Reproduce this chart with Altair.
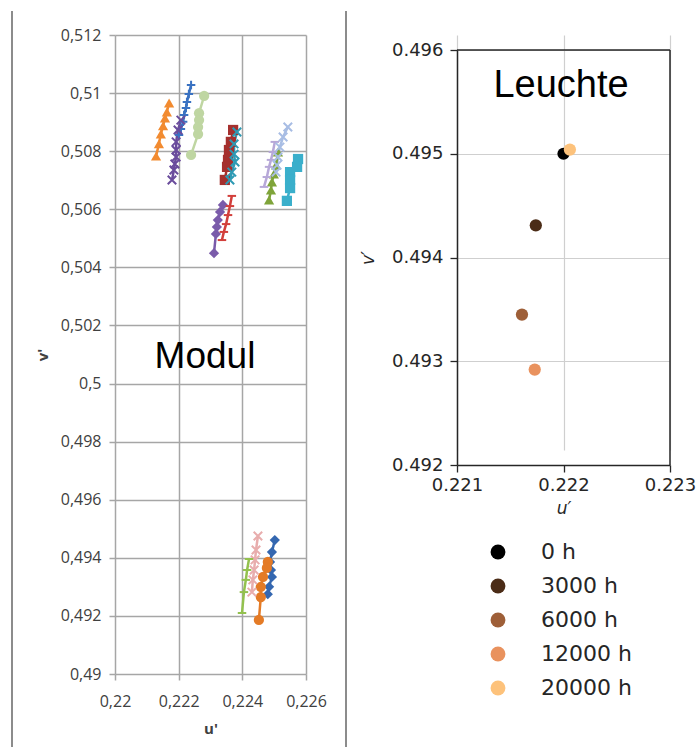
import altair as alt
import pandas as pd

# ---------------- Modul: u'/v' drift of the individual modules ----------------
mod01_u = [0.22129, 0.22138, 0.22144, 0.22151, 0.22157, 0.22163, 0.22170]
mod01_v = [0.50783, 0.50825, 0.50859, 0.50887, 0.50914, 0.50935, 0.50966]
mod02_u = [0.22239, 0.22232, 0.22226, 0.22223, 0.22217, 0.22214, 0.22207, 0.22201]
mod02_v = [0.51028, 0.50997, 0.50969, 0.50949, 0.50925, 0.50901, 0.50876, 0.50856]
mod03_u = [0.22207, 0.22198, 0.22192, 0.22192, 0.22192, 0.22188, 0.22185, 0.22179]
mod03_v = [0.50907, 0.50873, 0.50832, 0.50804, 0.50780, 0.50756, 0.50735, 0.50701]
mod04_u = [0.22280, 0.22264, 0.22264, 0.22261, 0.22261, 0.22239]
mod04_v = [0.50990, 0.50931, 0.50907, 0.50883, 0.50859, 0.50787]
mod05_u = [0.22371, 0.22364, 0.22358, 0.22355, 0.22352, 0.22345]
mod05_v = [0.50873, 0.50832, 0.50804, 0.50770, 0.50746, 0.50701]
mod06_u = [0.22383, 0.22374, 0.22374, 0.22377, 0.22367, 0.22361]
mod06_v = [0.50866, 0.50825, 0.50790, 0.50763, 0.50728, 0.50701]
mod07_u = [0.22367, 0.22361, 0.22355, 0.22349, 0.22342, 0.22336]
mod07_v = [0.50646, 0.50611, 0.50580, 0.50549, 0.50522, 0.50494]
mod08_u = [0.22339, 0.22330, 0.22323, 0.22320, 0.22317, 0.22311]
mod08_v = [0.50615, 0.50591, 0.50563, 0.50539, 0.50515, 0.50449]
mod09_u = [0.22502, 0.22496, 0.22490, 0.22484, 0.22477, 0.22468]
mod09_v = [0.50832, 0.50797, 0.50770, 0.50746, 0.50711, 0.50677]
mod10_u = [0.22543, 0.22528, 0.22518, 0.22512, 0.22509, 0.22506]
mod10_v = [0.50883, 0.50849, 0.50814, 0.50780, 0.50752, 0.50728]
mod11_u = [0.22512, 0.22506, 0.22499, 0.22493, 0.22490, 0.22484]
mod11_v = [0.50797, 0.50752, 0.50721, 0.50694, 0.50666, 0.50632]
mod12_u = [0.22575, 0.22572, 0.22550, 0.22550, 0.22550, 0.22540]
mod12_v = [0.50773, 0.50746, 0.50728, 0.50701, 0.50673, 0.50629]
mod13_u = [0.22502, 0.22493, 0.22487, 0.22490, 0.22493, 0.22484, 0.22480]
mod13_v = [0.49461, 0.49420, 0.49386, 0.49358, 0.49334, 0.49300, 0.49275]
mod14_u = [0.22480, 0.22477, 0.22465, 0.22458, 0.22458, 0.22452]
mod14_v = [0.49386, 0.49365, 0.49334, 0.49300, 0.49265, 0.49186]
mod15_u = [0.22449, 0.22443, 0.22440, 0.22437, 0.22433, 0.22430]
mod15_v = [0.49475, 0.49427, 0.49393, 0.49358, 0.49324, 0.49282]
mod16_u = [0.22421, 0.22415, 0.22411, 0.22405, 0.22399]
mod16_v = [0.49396, 0.49358, 0.49324, 0.49282, 0.49210]

modules = [f"M{i:02d}" for i in range(1, 17)]
module_u = [mod01_u, mod02_u, mod03_u, mod04_u, mod05_u, mod06_u, mod07_u, mod08_u,
            mod09_u, mod10_u, mod11_u, mod12_u, mod13_u, mod14_u, mod15_u, mod16_u]
module_v = [mod01_v, mod02_v, mod03_v, mod04_v, mod05_v, mod06_v, mod07_v, mod08_v,
            mod09_v, mod10_v, mod11_v, mod12_v, mod13_v, mod14_v, mod15_v, mod16_v]

# ---------------- Leuchte: luminaire chromaticity over operating time ----------------
leuchte_labels = ["0 h", "3000 h", "6000 h", "12000 h", "20000 h"]
leuchte_u = [0.22200, 0.22174, 0.22161, 0.22173, 0.22206]
leuchte_v = [0.49500, 0.49431, 0.49345, 0.49292, 0.49504]

# ---------------- styling ----------------
X_PATH = "M-1,-1L1,1M-1,1L1,-1"
PLUS_PATH = "M-1,0L1,0M0,-1L0,1"
DASH_PATH = "M-1,0L1,0"

module_colors = ["#F28B30", "#3A72C2", "#6A4C9C", "#BFD6A2", "#A5302E", "#2E9AB4",
                 "#D23F3B", "#7A5BAA", "#B7A8D8", "#A8BDE4", "#7FA43A", "#3AAFCB",
                 "#3467B0", "#E47B26", "#E8ADAD", "#93C14E"]
module_shapes = ["triangle-up", PLUS_PATH, X_PATH, "circle", "square", X_PATH,
                 DASH_PATH, "diamond", DASH_PATH, X_PATH, "triangle-up", "square",
                 "diamond", "circle", X_PATH, DASH_PATH]
filled_shapes = {"triangle-up", "circle", "square", "diamond"}

leuchte_colors = ["#000000", "#4B2C17", "#9E5F38", "#E9925E", "#FDC27B"]

rows = []
for name, us, vs, shp in zip(modules, module_u, module_v, module_shapes):
    kind = "filled" if shp in filled_shapes else "stroked"
    for i, (u, v) in enumerate(zip(us, vs)):
        rows.append({"modul": name, "i": i, "u": u, "v": v, "kind": kind})
mod_df = pd.DataFrame(rows)

leuchte_df = pd.DataFrame({"zeit": leuchte_labels, "u": leuchte_u, "v": leuchte_v})

GRID = "#A6A6A6"
SEP = "#8C8C8C"
comma_fmt = "replace(format(datum.value, '.3~f'), '.', ',')"

x_mod = alt.X(
    "u:Q",
    scale=alt.Scale(domain=[0.22, 0.226], nice=False, zero=False),
    axis=alt.Axis(
        values=[0.22, 0.222, 0.224, 0.226], labelExpr=comma_fmt, title="u'",
        grid=True, gridColor=GRID, gridWidth=1.5, domain=False, labelFlush=False,
        tickColor=GRID, tickWidth=1.5, tickSize=6,
        labelFont="Open Sans", labelFontSize=16, labelColor="#404040", labelPadding=13,
        titleFont="Open Sans", titleFontSize=15, titleFontWeight="bold",
        titleColor="#404040", titlePadding=12,
    ),
)
y_mod = alt.Y(
    "v:Q",
    scale=alt.Scale(domain=[0.49, 0.512], nice=False, zero=False),
    axis=alt.Axis(
        values=[0.49 + 0.002 * k for k in range(12)], labelExpr=comma_fmt, title="v'",
        grid=True, gridColor=GRID, gridWidth=1.5, domain=False, labelFlush=False,
        tickColor=GRID, tickWidth=1.5, tickSize=6,
        labelFont="Open Sans", labelFontSize=16, labelColor="#404040", labelPadding=8,
        titleFont="Open Sans", titleFontSize=15, titleFontWeight="bold",
        titleColor="#404040", titlePadding=10,
    ),
)
mod_color = alt.Color("modul:N", scale=alt.Scale(domain=modules, range=module_colors), legend=None)
mod_shape = alt.Shape("modul:N", scale=alt.Scale(domain=modules, range=module_shapes), legend=None)

mod_base = alt.Chart(mod_df)
mod_lines = mod_base.mark_line(strokeWidth=2.5).encode(
    x=x_mod, y=y_mod, color=mod_color, order="i:Q"
)
mod_filled = mod_base.transform_filter(
    alt.FieldEqualPredicate(field="kind", equal="filled")
).mark_point(filled=True, opacity=1, size=105).encode(
    x=x_mod, y=y_mod, color=mod_color, shape=mod_shape
)
mod_stroked = mod_base.transform_filter(
    alt.FieldEqualPredicate(field="kind", equal="stroked")
).mark_point(filled=False, opacity=1, size=72, strokeWidth=2).encode(
    x=x_mod, y=y_mod, color=mod_color, shape=mod_shape
)

one_row = pd.DataFrame({"k": [0]})
sep_left = alt.Chart(one_row).mark_rule(color=SEP, strokeWidth=2).encode(
    x=alt.value(-103), y=alt.value(-24), y2=alt.value(712)
)
modul_label = alt.Chart(one_row).mark_text(
    text="Modul", font="Liberation Sans", fontSize=37, color="#000000"
).encode(x=alt.value(90), y=alt.value(322))

left = alt.layer(sep_left, mod_lines, mod_filled, mod_stroked, modul_label).properties(
    width=191, height=639, view=alt.ViewBackground(stroke="transparent")
)

# ---------------- right panel ----------------
DARK = "#262626"
TOP_GAP = 15          # frame starts a little below the left panel's top
R_H = 415             # frame height
x_le = alt.X(
    "u:Q",
    scale=alt.Scale(domain=[0.221, 0.223], nice=False, zero=False),
    axis=alt.Axis(
        values=[0.221, 0.222, 0.223], format=".3f", title="u′",
        grid=True, gridColor="#CFCFCF", gridWidth=1.2, labelFlush=False,
        domain=True, domainColor=DARK, domainWidth=1.5,
        tickColor=DARK, tickWidth=1.3, tickSize=7,
        labelFont="DejaVu Sans", labelFontSize=18, labelColor=DARK, labelPadding=4,
        titleFont="DejaVu Sans", titleFontSize=17, titleFontStyle="italic",
        titleFontWeight="normal", titleColor=DARK, titlePadding=6,
    ),
)
y_le = alt.Y(
    "v:Q",
    scale=alt.Scale(domain=[0.492, 0.496], nice=False, zero=False,
                    range=[TOP_GAP + R_H, TOP_GAP]),
    axis=alt.Axis(
        values=[0.492, 0.493, 0.494, 0.495, 0.496], format=".3f", title="v′",
        grid=True, gridColor="#CFCFCF", gridWidth=1.2, labelFlush=False,
        domain=True, domainColor=DARK, domainWidth=1.5,
        tickColor=DARK, tickWidth=1.3, tickSize=7,
        labelFont="DejaVu Sans", labelFontSize=18, labelColor=DARK, labelPadding=7,
        titleFont="DejaVu Sans", titleFontSize=17, titleFontStyle="italic",
        titleFontWeight="normal", titleColor=DARK, titlePadding=14,
    ),
)
le_points = alt.Chart(leuchte_df).mark_circle(size=150, opacity=1).encode(
    x=x_le, y=y_le,
    color=alt.Color(
        "zeit:N",
        scale=alt.Scale(domain=leuchte_labels, range=leuchte_colors),
        sort=leuchte_labels,
        legend=alt.Legend(
            orient="none", legendX=30, legendY=TOP_GAP + 491, title=None, padding=0,
            labelFont="DejaVu Sans", labelFontSize=22, labelColor=DARK,
            symbolType="circle", symbolSize=220, symbolOpacity=1, symbolStrokeWidth=0,
            labelOffset=32, rowPadding=12,
        ),
    ),
)
# top and right edges of the frame
frame_top = alt.Chart(one_row).mark_rule(color=DARK, strokeWidth=1.5).encode(
    y=alt.datum(0.496)
)
frame_right = alt.Chart(one_row).mark_rule(color=DARK, strokeWidth=1.5).encode(
    x=alt.datum(0.223), y=alt.datum(0.496), y2=alt.datum(0.492)
)
sep_right = alt.Chart(one_row).mark_rule(color=SEP, strokeWidth=2).encode(
    x=alt.value(-111), y=alt.value(-24), y2=alt.value(712)
)
leuchte_label = alt.Chart(one_row).mark_text(
    text="Leuchte", font="Liberation Sans", fontSize=38, color="#000000"
).encode(x=alt.value(104), y=alt.value(TOP_GAP + 36))

right = alt.layer(sep_right, le_points, frame_top, frame_right, leuchte_label).properties(
    width=213, height=TOP_GAP + R_H,
    view=alt.ViewBackground(stroke="transparent"),
)

chart = alt.hconcat(left, right, spacing=17).resolve_scale(
    color="independent", shape="independent", x="independent", y="independent"
).properties(
    padding={"left": 10, "top": 9, "right": 0, "bottom": 0},
    background="white",
)

chart.save("out.html", embed_options={"renderer": "svg", "actions": False})
